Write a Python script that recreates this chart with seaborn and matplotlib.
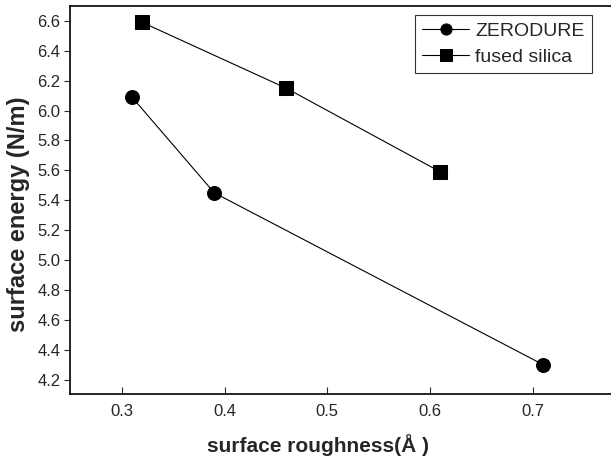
import matplotlib
matplotlib.use("Agg")
import matplotlib.pyplot as plt
import seaborn as sns
import pandas as pd

# values
zerodure_x = [0.31, 0.39, 0.71]
zerodure_y = [6.09, 5.45, 4.30]
silica_x = [0.32, 0.46, 0.61]
silica_y = [6.59, 6.15, 5.59]
x_ticks = [0.3, 0.4, 0.5, 0.6, 0.7]
y_ticks = [4.2, 4.4, 4.6, 4.8, 5.0, 5.2, 5.4, 5.6, 5.8, 6.0, 6.2, 6.4, 6.6]

df = pd.concat([
    pd.DataFrame({"x": zerodure_x, "y": zerodure_y, "material": "ZERODURE"}),
    pd.DataFrame({"x": silica_x, "y": silica_y, "material": "fused silica"}),
])

sns.set_style("ticks")
plt.rcParams["font.family"] = ["Liberation Sans", "DejaVu Sans"]

fig = plt.figure(figsize=(6.11, 4.59), dpi=100)
# the scanned axes run off the right edge of the picture
ax = fig.add_axes([0.1146, 0.142, 0.8854, 0.845])

sns.lineplot(data=df, x="x", y="y", hue="material", style="material",
             markers={"ZERODURE": "o", "fused silica": "s"}, dashes=False,
             palette={"ZERODURE": "black", "fused silica": "black"},
             linewidth=0.8, markersize=10, markeredgecolor="black",
             sort=False, ax=ax)

ax.set_xlim(0.2497, 0.776)
ax.set_ylim(4.105, 6.70)
ax.set_xticks(x_ticks)
ax.set_yticks(y_ticks)
ax.set_xticklabels([f"{v:.1f}" for v in x_ticks])
ax.set_yticklabels([f"{v:.1f}" for v in y_ticks])
ax.tick_params(axis="x", direction="in", length=5, labelsize=12, pad=7)
ax.tick_params(axis="y", direction="out", length=4, labelsize=12, pad=3)
ax.spines["right"].set_visible(False)
for s in ax.spines.values():
    s.set_linewidth(1.2)
    s.set_color("black")

ax.set_xlabel("surface roughness(Å )", fontsize=15, fontweight="bold", labelpad=11)
ax.set_ylabel("surface energy (N/m)", fontsize=17, fontweight="bold", labelpad=5)
ax.xaxis.label.set_x(0.458)
ax.yaxis.label.set_y(0.463)

leg = ax.legend(loc="upper right", bbox_to_anchor=(0.965, 0.977), fontsize=14,
                frameon=True, fancybox=False, edgecolor="black",
                handlelength=2.4, handletextpad=0.3, borderpad=0.4,
                labelspacing=0.4, markerscale=0.8, borderaxespad=0)
leg.get_frame().set_linewidth(0.8)
leg.set_title(None)

fig.savefig("out.png", dpi=100)
